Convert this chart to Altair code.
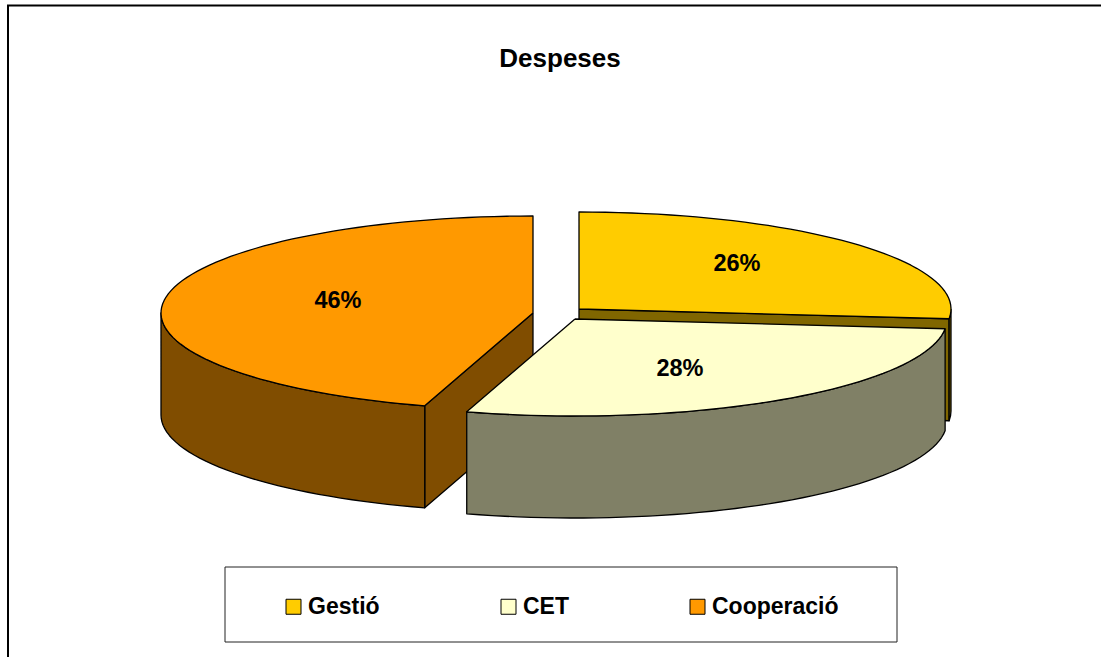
import math
import altair as alt
import pandas as pd

# --- values -----------------------------------------------------------------
categories = ["Gestió", "CET", "Cooperació"]
labels = ["26%", "28%", "46%"]
drawn_shares = [26.6, 28.1, 45.3]
top_colors = ["#FFCC00", "#FFFFCC", "#FF9900"]
side_colors = ["#806600", "#808066", "#804D00"]

# --- scene geometry (page pixels) -------------------------------------------
APEX = {"Gestió": (579, 309), "CET": (575, 319), "Cooperació": (533, 313)}
RX, RY, DEPTH = 372, 97, 102
LABEL_AT = {"Gestió": (737, 264), "CET": (680, 369), "Cooperació": (338, 301)}
W, H = 1101, 657
x_scale = alt.Scale(domain=[0, W], range=[0, W])
y_scale = alt.Scale(domain=[0, H], range=[0, H])


def rim(cat, deg, drop=0):
    cx, cy = APEX[cat]
    t = math.radians(deg)
    return cx + RX * math.sin(t), cy - RY * math.cos(t) + drop


def arc(cat, a, b, drop=0):
    n = max(2, int(abs(b - a) / 2))
    return [rim(cat, a + (b - a) * i / n, drop) for i in range(n + 1)]


def polygon_layer(points, name, fill=None):
    closed = points + [points[0]]
    df = pd.DataFrame(
        {"px": [p[0] for p in closed], "py": [p[1] for p in closed],
         "i": range(len(closed)), "Categoria": name}
    )
    enc = dict(
        x=alt.X("px:Q", scale=x_scale, axis=None),
        y=alt.Y("py:Q", scale=y_scale, axis=None),
        order="i:Q",
    )
    if fill is None:
        return (
            alt.Chart(df)
            .mark_line(stroke="black", strokeWidth=1.3, strokeJoin="round", interpolate="linear")
            .encode(
                fill=alt.Fill(
                    "Categoria:N",
                    scale=alt.Scale(domain=categories, range=top_colors),
                    legend=alt.Legend(
                        title=None, orient="none", legendX=282, legendY=595,
                        direction="horizontal", columns=3, columnPadding=117,
                        symbolType="square", symbolSize=225, symbolStrokeColor="black",
                        symbolStrokeWidth=1, labelOffset=3, labelFont="Liberation Sans",
                        labelFontWeight="bold", labelFontSize=23, labelColor="black",
                        padding=0,
                    ),
                ),
                **enc,
            )
        )
    return (
        alt.Chart(df)
        .mark_line(stroke="black", strokeWidth=1.3, strokeJoin="round", fill=fill, interpolate="linear")
        .encode(**enc)
    )


# slice angles come from the shares, clockwise from the top
start = {}
end = {}
acc = 0.0
for c, s in zip(categories, drawn_shares):
    start[c] = acc * 3.6
    acc += s
    end[c] = acc * 3.6

layers = []

# Gestió: cut wall, then outer wall, then top
c = "Gestió"
e = end[c]
layers.append(polygon_layer(
    [APEX[c], rim(c, e), rim(c, e, DEPTH), (APEX[c][0], APEX[c][1] + DEPTH)], c, side_colors[0]))
layers.append(polygon_layer(arc(c, 90, e) + arc(c, e, 90, DEPTH), c, side_colors[0]))
layers.append(polygon_layer([APEX[c]] + arc(c, start[c], e), c))

# Cooperació: cut wall, outer wall, top
c = "Cooperació"
s = start[c]
layers.append(polygon_layer(
    [APEX[c], rim(c, s), rim(c, s, DEPTH), (APEX[c][0], APEX[c][1] + DEPTH)], c, side_colors[2]))
layers.append(polygon_layer(arc(c, s, 270) + arc(c, 270, s, DEPTH), c, side_colors[2]))
layers.append(polygon_layer([APEX[c]] + arc(c, s, 360), c))

# CET: outer wall, top
c = "CET"
layers.append(polygon_layer(arc(c, start[c], end[c]) + arc(c, end[c], start[c], DEPTH), c, side_colors[1]))
layers.append(polygon_layer([APEX[c]] + arc(c, start[c], end[c]), c))

# percentage labels
label_df = pd.DataFrame({
    "px": [LABEL_AT[k][0] for k in categories],
    "py": [LABEL_AT[k][1] for k in categories],
    "t": labels,
})
layers.append(
    alt.Chart(label_df)
    .mark_text(font="Liberation Sans", fontWeight="bold", fontSize=23.5, color="black")
    .encode(x=alt.X("px:Q", scale=x_scale, axis=None), y=alt.Y("py:Q", scale=y_scale, axis=None), text="t:N")
)

# legend box and chart frame
box_df = pd.DataFrame({"x": [225], "x2": [897], "y": [567], "y2": [642]})
layers.insert(0,
    alt.Chart(box_df)
    .mark_rect(fill="white", stroke="#222222", strokeWidth=1)
    .encode(x=alt.X("x:Q", scale=x_scale, axis=None), x2="x2:Q",
            y=alt.Y("y:Q", scale=y_scale, axis=None), y2="y2:Q")
)
frame_top = pd.DataFrame({"x": [7], "x2": [1101], "y": [5.5]})
frame_left = pd.DataFrame({"x": [8], "y": [5], "y2": [657]})
layers.insert(0,
    alt.Chart(frame_top).mark_rule(color="black", strokeWidth=2)
    .encode(x=alt.X("x:Q", scale=x_scale, axis=None), x2="x2:Q", y=alt.Y("y:Q", scale=y_scale, axis=None))
)
layers.insert(0,
    alt.Chart(frame_left).mark_rule(color="black", strokeWidth=2)
    .encode(x=alt.X("x:Q", scale=x_scale, axis=None), y=alt.Y("y:Q", scale=y_scale, axis=None), y2="y2:Q")
)

chart = (
    alt.layer(*layers)
    .properties(
        width=W, height=H, padding=0,
        autosize=alt.AutoSizeParams(type="none"),
        title=alt.TitleParams(
            "Despeses", orient="top", anchor="middle", offset=-72, dx=9.5,
            font="Liberation Sans", fontWeight="bold", fontSize=26, color="black",
        ),
    )
    .configure_view(stroke=None)
    .resolve_scale(x="shared", y="shared")
)

chart.save("out.html", embed_options={"renderer": "svg", "actions": False,
                                      "defaultStyle": "body{margin:0!important;overflow:hidden}"})
